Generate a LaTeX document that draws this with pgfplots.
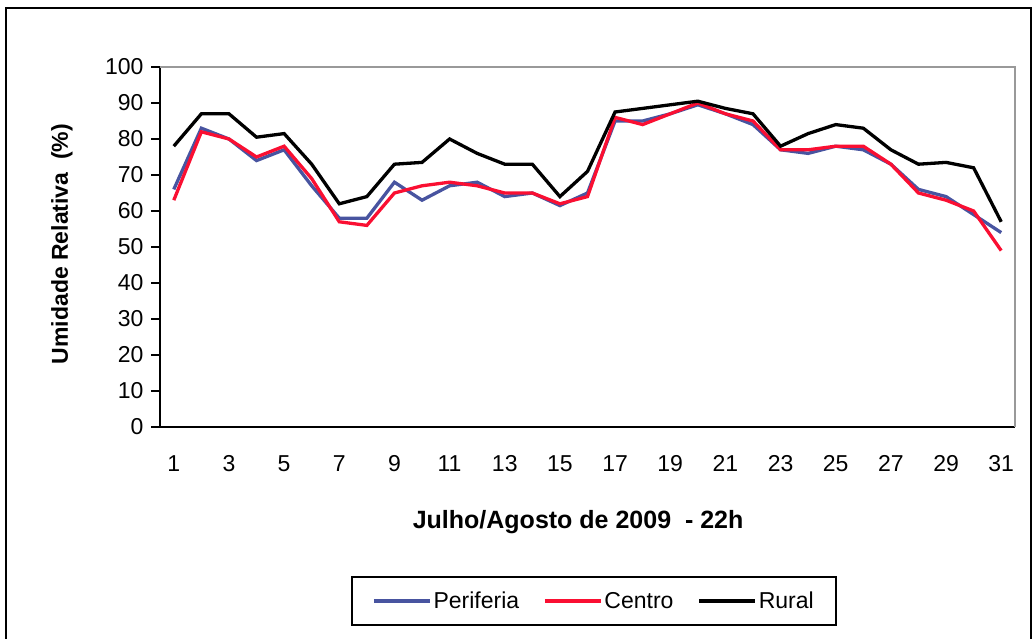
\documentclass[border=0pt]{standalone}
\usepackage{pgfplots}
\pgfplotsset{compat=1.18}
\usepackage{fontspec}
\setmainfont{Liberation Sans}
\definecolor{peri}{RGB}{72,84,160}
\definecolor{cent}{RGB}{250,15,50}
\begin{document}
\begin{tikzpicture}[x=1pt,y=1pt]
\useasboundingbox (0,0) rectangle (1033,639);
\draw[line width=2pt] (6,-20) -- (6,631) -- (1031,631) -- (1031,-20);
\begin{axis}[
  at={(160pt,212pt)}, anchor=south west,
  width=855pt, height=360pt, scale only axis,
  xmin=0.5, xmax=31.5, ymin=0, ymax=100,
  axis x line*=bottom, axis y line*=left,
  axis line style={line width=1.3pt, black, -},
  xtick={1,3,...,31},
  minor xtick={0.5,1.5,...,31.5},
  ytick={0,10,...,100},
  tick align=outside,
  major tick length=9pt,
  minor tick length=8pt,
  xtick style={draw=none},
  minor x tick style={line width=1.2pt, black},
  y tick style={line width=1.2pt, black},
  tick label style={font=\fontsize{23}{27}\selectfont},
  /pgf/number format/assume math mode=true,
  xticklabel style={yshift=-16pt},
  yticklabel style={xshift=-4pt},
  xlabel={Julho/Agosto de 2009~~- 22h},
  ylabel={Umidade Relativa~~(\%)},
  label style={font=\bfseries\fontsize{23}{27}\selectfont},
  xlabel style={at={(axis description cs:0.489,-0.264)}, anchor=center, font=\bfseries\fontsize{25}{29}\selectfont},
  ylabel style={at={(axis description cs:-0.1146,0.508)}, anchor=center, rotate=0},
  legend style={at={(axis description cs:0.5076,-0.483)}, anchor=center,
    legend columns=3, draw=black, line width=1.5pt,
    font=\fontsize{23}{27}\selectfont, inner xsep=20pt, inner ysep=13pt,
    /tikz/every even column/.append style={column sep=22pt}},
  legend image code/.code={\draw[#1] (0pt,0pt) -- (56pt,0pt);},
  clip=false,
]
\draw[line width=1.2pt, gray!80] (rel axis cs:0,1) -- (rel axis cs:1,1) -- (rel axis cs:1,0);
\addplot[peri, line width=3.3pt] coordinates {
(1,66) (2,83) (3,80) (4,74) (5,77) (6,67) (7,58) (8,58) (9,68) (10,63)
(11,67) (12,68) (13,64) (14,65) (15,61.5) (16,65) (17,85) (18,85) (19,87) (20,89.5)
(21,87) (22,84) (23,77) (24,76) (25,78) (26,77) (27,73) (28,66) (29,64) (30,59) (31,54)};
\addlegendentry{Periferia}
\addplot[cent, line width=3.3pt] coordinates {
(1,63) (2,82) (3,80) (4,75) (5,78) (6,69) (7,57) (8,56) (9,65) (10,67)
(11,68) (12,67) (13,65) (14,65) (15,62) (16,64) (17,86) (18,84) (19,87) (20,90)
(21,87) (22,85) (23,77) (24,77) (25,78) (26,78) (27,73) (28,65) (29,63) (30,60) (31,49)};
\addlegendentry{Centro}
\addplot[black, line width=3.3pt] coordinates {
(1,78) (2,87) (3,87) (4,80.5) (5,81.5) (6,73) (7,62) (8,64) (9,73) (10,73.5)
(11,80) (12,76) (13,73) (14,73) (15,64) (16,71) (17,87.5) (18,88.5) (19,89.5) (20,90.5)
(21,88.5) (22,87) (23,78) (24,81.5) (25,84) (26,83) (27,77) (28,73) (29,73.5) (30,72) (31,57)};
\addlegendentry{Rural}
\end{axis}
\end{tikzpicture}
\end{document}
